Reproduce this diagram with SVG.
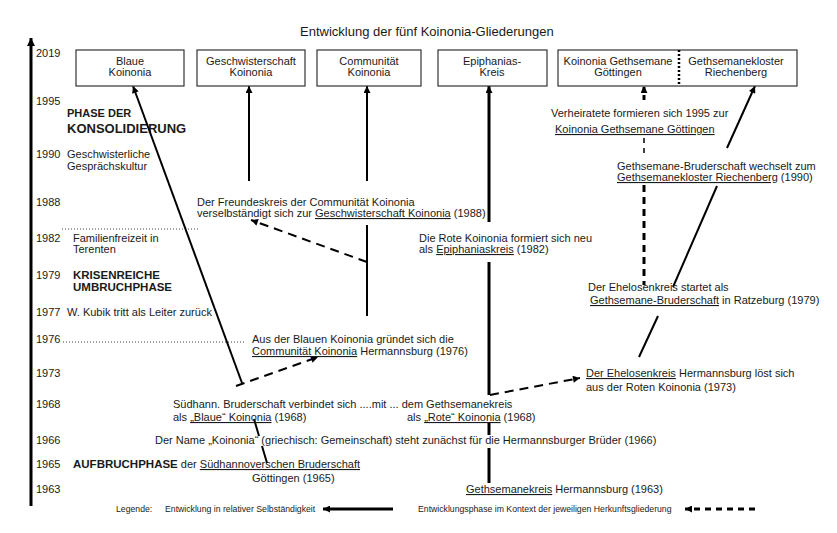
<svg xmlns="http://www.w3.org/2000/svg" width="837" height="533" viewBox="0 0 837 533">
<style>
text{font-family:"Liberation Sans",Arial,sans-serif;font-size:11px;fill:#1a1a1a}
.t{font-size:13px}
.c{text-anchor:middle}
.b{font-weight:bold}
.u{text-decoration:underline}
.lg{font-size:8.7px}
.box{fill:#fff;stroke:#333;stroke-width:1.2}
.sl{stroke:#000;stroke-width:2;fill:none}
.th{stroke:#000;stroke-width:3;fill:none}
.dl{stroke:#000;stroke-width:2;fill:none;stroke-dasharray:9 6}
.dv{stroke:#000;stroke-width:3;fill:none;stroke-dasharray:7 5}
.dot{stroke:#444;stroke-width:1;stroke-dasharray:1 2;fill:none}
</style>
<defs>
<marker id="ah" viewBox="0 0 10 10" refX="10" refY="5" markerWidth="8" markerHeight="7" markerUnits="userSpaceOnUse" orient="auto"><path d="M0,0 L10,5 L0,10 z" fill="#000"/></marker>
<marker id="ahb" viewBox="0 0 10 10" refX="10" refY="5" markerWidth="9" markerHeight="8" markerUnits="userSpaceOnUse" orient="auto"><path d="M0,0 L10,5 L0,10 z" fill="#000"/></marker>
</defs>
<rect width="837" height="533" fill="#fff"/>
<text class="t" x="300" y="36">Entwicklung der fünf Koinonia-Gliederungen</text>

<g id="axis">
<line x1="31" y1="506" x2="31" y2="38" class="th" marker-end="url(#ahb)"/>
<text x="36" y="57">2019</text>
<text x="36" y="105">1995</text>
<text x="36" y="158">1990</text>
<text x="36" y="206">1988</text>
<text x="36" y="242">1982</text>
<text x="36" y="279">1979</text>
<text x="36" y="316">1977</text>
<text x="36" y="343">1976</text>
<text x="36" y="377">1973</text>
<text x="36" y="408">1968</text>
<text x="36" y="444">1966</text>
<text x="36" y="468">1965</text>
<text x="36" y="493">1963</text>
<line x1="62" y1="229" x2="200" y2="229" class="dot"/>
<line x1="63" y1="342" x2="245" y2="342" class="dot"/>
</g>

<g id="phases">
<text x="67" y="117" class="b">PHASE DER</text>
<text x="67" y="133" class="b" style="font-size:13px">KONSOLIDIERUNG</text>
<text x="67" y="158">Geschwisterliche</text>
<text x="67" y="170">Gesprächskultur</text>
<text x="73" y="242">Familienfreizeit  in</text>
<text x="73" y="253">Terenten</text>
<text x="73" y="279" class="b" style="font-size:11.5px">KRISENREICHE</text>
<text x="73" y="291" class="b" style="font-size:11.5px">UMBRUCHPHASE</text>
<text x="67" y="316">W. Kubik tritt als Leiter zurück</text>
<text x="73" y="468"><tspan class="b" style="font-size:11.5px">AUFBRUCHPHASE</tspan> der <tspan class="u">Südhannoverschen Bruderschaft</tspan></text>
<text x="252" y="482">Göttingen (1965)</text>
</g>

<g id="connectors">
<line x1="242" y1="383" x2="133" y2="86" class="sl" marker-end="url(#ah)"/>
<line x1="249" y1="181" x2="249" y2="86" class="sl" marker-end="url(#ah)"/>
<line x1="367" y1="181" x2="367" y2="86" class="sl" marker-end="url(#ah)"/>
<line x1="367" y1="225" x2="367" y2="316" class="sl"/>
<line x1="367" y1="262" x2="251" y2="220" class="dl" marker-end="url(#ah)"/>
<line x1="236" y1="386" x2="318" y2="357" class="dl" marker-end="url(#ah)"/>
<line x1="254" y1="419" x2="259" y2="436" class="sl"/>
<line x1="262" y1="446" x2="267" y2="463" class="sl"/>
<line x1="489" y1="222" x2="489" y2="86" class="th" marker-end="url(#ah)"/>
<line x1="489" y1="262" x2="489" y2="395" class="th"/>
<line x1="489" y1="423" x2="489" y2="435" class="th"/>
<line x1="489" y1="448" x2="489" y2="483" class="th"/>
<line x1="490" y1="395" x2="580" y2="378" class="dl" marker-end="url(#ah)"/>
<line x1="639" y1="357" x2="658" y2="316" class="sl"/>
<line x1="673" y1="287" x2="717" y2="186" class="sl"/>
<line x1="727" y1="148" x2="755" y2="86" class="sl" marker-end="url(#ah)"/>
<line x1="644" y1="100" x2="644" y2="86" class="th" stroke-dasharray="5 3" marker-end="url(#ah)"/>
<line x1="644" y1="138" x2="644" y2="158" stroke="#000" stroke-width="1.5" stroke-dasharray="5 5"/>
<line x1="644" y1="185" x2="644" y2="285" class="dv"/>
</g>

<g id="n-blaue"><rect x="76" y="50" width="108" height="36" class="box"/><text x="130" y="65" class="c">Blaue</text><text x="130" y="76" class="c">Koinonia</text></g>
<g id="n-geschwisterschaft"><rect x="197" y="50" width="108" height="36" class="box"/><text x="251" y="65" class="c">Geschwisterschaft</text><text x="251" y="76" class="c">Koinonia</text></g>
<g id="n-communitaet"><rect x="317" y="50" width="104" height="36" class="box"/><text x="369" y="65" class="c">Communität</text><text x="369" y="76" class="c">Koinonia</text></g>
<g id="n-epiphanias"><rect x="438" y="50" width="109" height="36" class="box"/><text x="492" y="65" class="c">Epiphanias-</text><text x="492" y="76" class="c">Kreis</text></g>
<g id="n-gethsemane"><rect x="558" y="50" width="239" height="36" class="box"/><line x1="679" y1="50" x2="679" y2="86" stroke="#000" stroke-width="2.5" stroke-dasharray="2 2"/><text x="618" y="65" class="c">Koinonia Gethsemane</text><text x="618" y="76" class="c">Göttingen</text><text x="736" y="65" class="c">Gethsemanekloster</text><text x="736" y="76" class="c">Riechenberg</text></g>

<g id="a-1995"><text x="551" y="117">Verheiratete formieren sich 1995 zur</text><text x="555" y="133" class="u">Koinonia Gethsemane Göttingen</text></g>
<g id="a-1990"><text x="617" y="170">Gethsemane-Bruderschaft wechselt zum</text><text x="617" y="181"><tspan class="u">Gethsemanekloster Riechenberg</tspan> (1990)</text></g>
<g id="a-1988"><text x="197" y="206">Der Freundeskreis der Communität Koinonia</text><text x="197" y="217">verselbständigt sich zur <tspan class="u">Geschwisterschaft Koinonia</tspan> (1988)</text></g>
<g id="a-1982"><text x="419" y="242">Die Rote Koinonia formiert sich neu</text><text x="419" y="253">als <tspan class="u">Epiphaniaskreis</tspan> (1982)</text></g>
<g id="a-1979"><text x="588" y="291">Der Ehelosenkreis startet als</text><text x="590" y="304"><tspan class="u">Gethsemane-Bruderschaft</tspan> in Ratzeburg (1979)</text></g>
<g id="a-1976"><text x="252" y="343">Aus der Blauen Koinonia gründet sich die</text><text x="252" y="355"><tspan class="u">Communität Koinonia</tspan> Hermannsburg (1976)</text></g>
<g id="a-1973"><text x="586" y="377"><tspan class="u">Der Ehelosenkreis</tspan> Hermannsburg löst sich</text><text x="586" y="391">aus der Roten Koinonia (1973)</text></g>
<g id="a-1968"><text x="173" y="408">Südhann. Bruderschaft verbindet sich ....mit ... dem Gethsemanekreis</text><text x="173" y="421">als <tspan class="u">„Blaue“ Koinonia</tspan> (1968)</text><text x="407" y="421">als <tspan class="u">„Rote“ Koinonia</tspan> (1968)</text></g>
<g id="a-1966"><text x="155" y="444">Der Name „Koinonia“ (griechisch: Gemeinschaft) steht zunächst für die Hermannsburger Brüder (1966)</text></g>
<g id="a-1963"><text x="466" y="493"><tspan class="u">Gethsemanekreis</tspan> Hermannsburg (1963)</text></g>

<g id="legend">
<text x="116" y="512" class="lg">Legende:</text>
<text x="165" y="512" class="lg">Entwicklung in relativer Selbständigkeit</text>
<line x1="393" y1="509" x2="323" y2="509" class="th" marker-end="url(#ah)"/>
<text x="418" y="512" class="lg">Entwicklungsphase im Kontext der jeweiligen Herkunftsgliederung</text>
<line x1="755" y1="509" x2="685" y2="509" class="th" stroke-dasharray="6 5" marker-end="url(#ah)"/>
</g>
</svg>
